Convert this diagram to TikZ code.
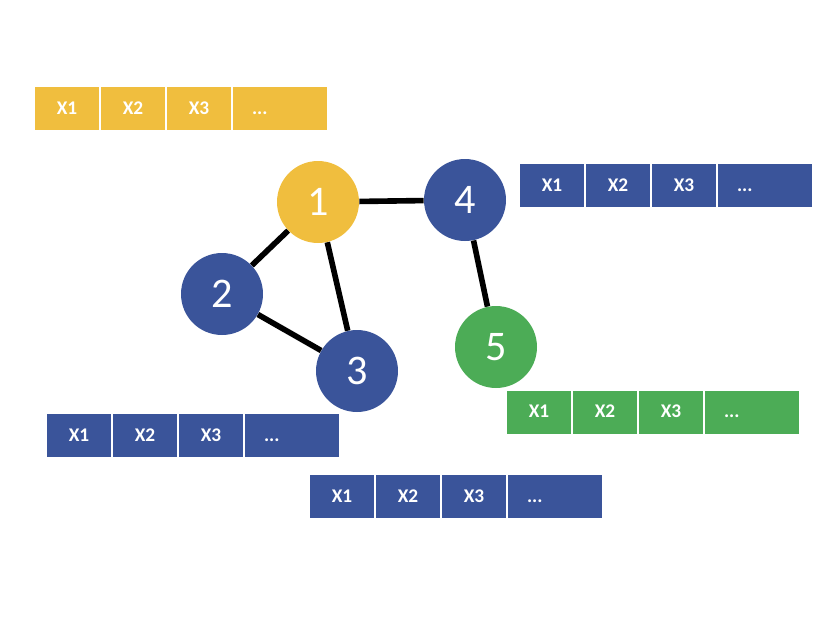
\documentclass[tikz,border=0pt]{standalone}
\usepackage{tikz}
\usepackage{xcolor}
\usepackage{fontspec}
\setmainfont{Carlito}

\definecolor{nodeyellow}{RGB}{240,190,62}
\definecolor{nodeblue}{RGB}{58,84,154}
\definecolor{nodegreen}{RGB}{76,172,86}

\begin{document}
\begin{tikzpicture}[x=0.02cm, y=-0.02cm]
\tikzstyle{every node}=[inner sep=0pt]
\tikzstyle{vertex}=[circle, minimum size=1.64cm, text=white, font=\fontsize{24}{28}\selectfont]
\tikzstyle{cell}=[rectangle, minimum width=1.28cm, minimum height=0.86cm, text height=1.6ex, text depth=0.2ex, text=white, font=\bfseries\fontsize{11}{13}\selectfont]
\tikzstyle{lastcell}=[cell, minimum width=1.88cm, text width=1.12cm, inner xsep=0.38cm, align=left]
\tikzstyle{link}=[line width=3.2pt, black]

\useasboundingbox (0, 0) rectangle (831, 623);

% graph
\node[vertex, fill=nodeyellow] (n1) at (318, 202) {1};
\node[vertex, fill=nodeblue]   (n2) at (222, 294) {2};
\node[vertex, fill=nodeblue]   (n3) at (357, 371) {3};
\node[vertex, fill=nodeblue]   (n4) at (465, 200) {4};
\node[vertex, fill=nodegreen]  (n5) at (496, 347) {5};

\draw[link] (n1) -- (n4);
\draw[link] (n1) -- (n2);
\draw[link] (n1) -- (n3);
\draw[link] (n2) -- (n3);
\draw[link] (n4) -- (n5);

% features of 1
\node[cell, fill=nodeyellow] (a1) at (67, 108.5) {X1};
\node[cell, fill=nodeyellow] (a2) at (133, 108.5) {X2};
\node[cell, fill=nodeyellow] (a3) at (199, 108.5) {X3};
\node[lastcell, fill=nodeyellow] (a4) at (280, 108.5) {...};

% features of 4
\node[cell, fill=nodeblue] (d1) at (552, 185.5) {X1};
\node[cell, fill=nodeblue] (d2) at (618, 185.5) {X2};
\node[cell, fill=nodeblue] (d3) at (684, 185.5) {X3};
\node[lastcell, fill=nodeblue] (d4) at (765, 185.5) {...};

% features of 5
\node[cell, fill=nodegreen] (e1) at (539, 412) {X1};
\node[cell, fill=nodegreen] (e2) at (605, 412) {X2};
\node[cell, fill=nodegreen] (e3) at (671, 412) {X3};
\node[lastcell, fill=nodegreen] (e4) at (752, 412) {...};

% features of 2
\node[cell, fill=nodeblue] (b1) at (79, 435.5) {X1};
\node[cell, fill=nodeblue] (b2) at (145, 435.5) {X2};
\node[cell, fill=nodeblue] (b3) at (211, 435.5) {X3};
\node[lastcell, fill=nodeblue] (b4) at (292, 435.5) {...};

% features of 3
\node[cell, fill=nodeblue] (c1) at (342, 496.5) {X1};
\node[cell, fill=nodeblue] (c2) at (408, 496.5) {X2};
\node[cell, fill=nodeblue] (c3) at (474, 496.5) {X3};
\node[lastcell, fill=nodeblue] (c4) at (555, 496.5) {...};

\end{tikzpicture}
\end{document}
